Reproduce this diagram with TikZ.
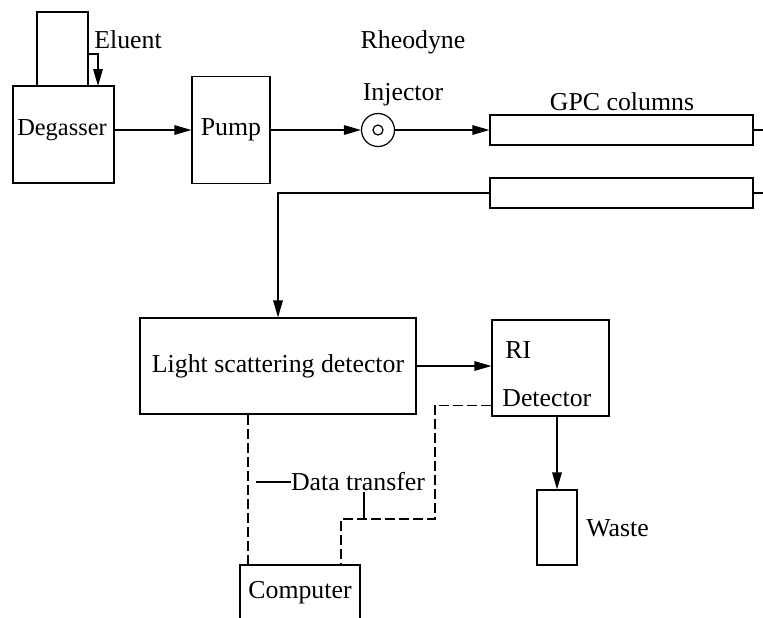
\documentclass[tikz,border=0pt]{standalone}
\usepackage{fontspec}
\setmainfont{Liberation Serif}
\usetikzlibrary{positioning,arrows.meta,calc}
\tikzset{
  flow/.style={-{Triangle[length=8.5pt,width=4.8pt]},semithick},
  pipe/.style={semithick},
  dataline/.style={semithick,dash pattern=on 5pt off 2pt},
  box/.style={draw,semithick,inner sep=0pt,font=\fontsize{12.9}{15}\selectfont},
  tag/.style={inner sep=0pt,font=\fontsize{12.9}{15}\selectfont}
}

\begin{document}
\begin{tikzpicture}[x=0.5pt,y=-0.5pt]
  \useasboundingbox (0,0) rectangle (763,617);
  \clip (0,0) rectangle (763,617);
  % top row
  \node[box,minimum width=25.5pt,minimum height=37pt] (res) at (62.5,49) {};
  \node[box,minimum width=50.5pt,minimum height=48.5pt] (deg) at (63.5,134.5) {};
  \node[tag,font=\fontsize{12.2}{15}\selectfont] (deglab) at (62,130) {Degasser};
  \node[box,minimum width=39pt,minimum height=53.5pt] (pump) at (231,130) {Pump};
  \node[draw,semithick,circle,minimum size=16.5pt,inner sep=0pt] (inj) at (378,130) {};
  \node[draw,semithick,circle,minimum size=5pt,inner sep=0pt] (injcore) at (inj.center) {};
  \node[box,minimum width=131.5pt,minimum height=15pt] (col1) at (621.5,130) {};
  \node[box,minimum width=131.5pt,minimum height=15pt] (col2) at (621.5,193) {};
  \node[tag] (eluent) at (128,40) {Eluent};
  \node[tag] (rheo) at (413,42) {Rheodyne};
  \node[tag] (injlab) at (403,95) {Injector};
  \node[tag] (gpc) at (622,102) {GPC columns};
  \coordinate (out1) at (763,130);
  \coordinate (in2) at (763,193);
  \coordinate (eldrop) at (98,86);
  % detectors
  \node[box,minimum width=138pt,minimum height=48pt] (ls) at (278,366) {Light scattering detector};
  \node[box,minimum width=58.5pt,minimum height=48pt] (ri) at (550.5,368) {};
  \node[tag,anchor=west] (rilab) at (505,350) {RI};
  \node[tag,anchor=west] (detlab) at (502,398) {Detector};
  \node[box,minimum width=20pt,minimum height=37.5pt] (waste) at (557,527.5) {};
  \node[tag,anchor=west] (wastelab) at (586,528) {Waste};
  \node[box,minimum width=60pt,minimum height=28pt] (comp) at (300,593) {Computer};
  \node[tag] (data) at (358,482) {Data transfer};
  \coordinate (lsx) at (248,0);
  \coordinate (ricorner) at (435,519);
  \coordinate (compx) at (341,0);
  \coordinate (dataleft) at (256,482);
  \coordinate (datadrop) at (364,519);

  \draw[flow] (res.east |- 0,54) -| (eldrop);
  \draw[flow] (deg.east |- pump.west) -- (pump.west);
  \draw[flow] (pump.east) -- (inj.west);
  \draw[flow] (inj.east) -- (col1.west);
  \draw[pipe] (col1.east) -- (out1);
  \draw[pipe] (in2) -- (col2.east);
  \draw[flow] (col2.west) -| (ls.north);
  \draw[flow] (ls.east) -- (ls.east -| ri.west);
  \draw[flow] (ri.south -| waste.north) -- (waste.north);
  % data lines
  \draw[dataline] (ls.south -| lsx) -- (comp.north -| lsx);
  \draw[dataline] ($(ri.south west)+(0,-11)$) -| (ricorner) -| (comp.north -| compx);
  \draw[pipe] (dataleft) -- (data.west);
  \draw[pipe] (data.south -| datadrop) -- (datadrop);
\end{tikzpicture}
\end{document}
